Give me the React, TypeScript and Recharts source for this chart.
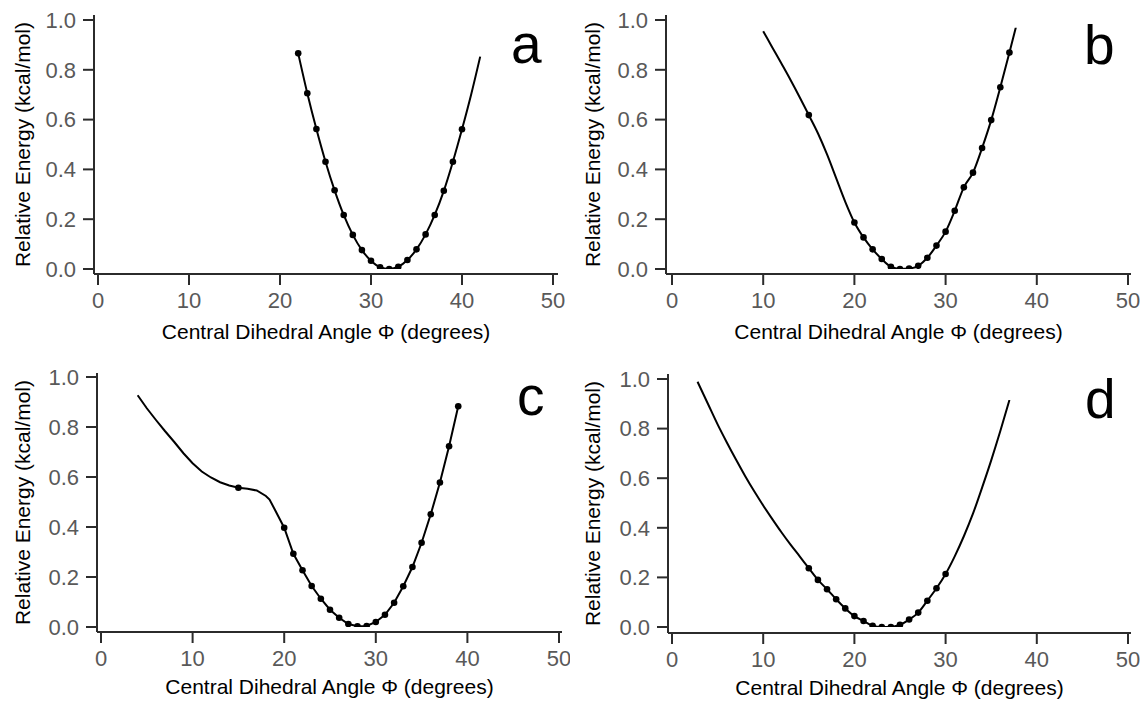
import React from "react";
import { ComposedChart, Line, Scatter, XAxis, YAxis } from "recharts";

const phiTicks = [0, 10, 20, 30, 40, 50];
const energyTicks = [0, 0.2, 0.4, 0.6, 0.8, 1.0];
const X_TITLE = "Central Dihedral Angle \u03A6 (degrees)";
const Y_TITLE = "Relative Energy (kcal/mol)";

// panel a
const aCurvePhi = [22, 23, 24, 25, 26, 27, 28, 29, 30, 31, 32, 33, 34, 35, 36, 37, 38, 39, 40, 41, 42];
const aCurveEnergy = [0.866, 0.706, 0.562, 0.431, 0.316, 0.217, 0.137, 0.076, 0.033, 0.007, 0.0, 0.009, 0.036, 0.079, 0.139, 0.217, 0.314, 0.431, 0.561, 0.7, 0.853];
const aMarkedPhi = [22, 23, 24, 25, 26, 27, 28, 29, 30, 31, 32, 33, 34, 35, 36, 37, 38, 39, 40];

// panel b
const bCurvePhi = [10, 11, 12, 13, 14, 15, 16, 17, 18, 19, 20, 21, 22, 23, 24, 25, 26, 27, 28, 29, 30, 31, 32, 33, 34, 35, 36, 37, 37.7];
const bCurveEnergy = [0.955, 0.89, 0.825, 0.759, 0.69, 0.618, 0.545, 0.46, 0.365, 0.27, 0.187, 0.127, 0.079, 0.04, 0.009, 0.0, 0.002, 0.013, 0.045, 0.094, 0.15, 0.234, 0.328, 0.387, 0.486, 0.598, 0.73, 0.869, 0.97];
const bMarkedPhi = [15, 20, 21, 22, 23, 24, 25, 26, 27, 28, 29, 30, 31, 32, 33, 34, 35, 36, 37];

// panel c (shoulder near 15-18, kink at ~18.4)
const cCurvePhi = [4, 5, 6, 7, 8, 9, 10, 11, 12, 13, 14, 15, 16, 17, 18, 18.4, 19, 20, 21, 22, 23, 24, 25, 26, 27, 28, 29, 30, 31, 32, 33, 34, 35, 36, 37, 38, 39];
const cCurveEnergy = [0.927, 0.875, 0.828, 0.783, 0.74, 0.695, 0.655, 0.622, 0.598, 0.579, 0.566, 0.557, 0.553, 0.546, 0.524, 0.51, 0.468, 0.397, 0.293, 0.227, 0.164, 0.113, 0.069, 0.037, 0.012, 0.003, 0.004, 0.02, 0.049, 0.097, 0.163, 0.24, 0.337, 0.451, 0.578, 0.723, 0.883];
const cMarkedPhi = [15, 20, 21, 22, 23, 24, 25, 26, 27, 28, 29, 30, 31, 32, 33, 34, 35, 36, 37, 38, 39];

// panel d
const dCurvePhi = [2.8, 4, 5, 6, 7, 8, 9, 10, 11, 12, 13, 14, 15, 16, 17, 18, 19, 20, 21, 22, 23, 24, 25, 26, 27, 28, 29, 30, 31, 32, 33, 34, 35, 36, 37];
const dCurveEnergy = [0.989, 0.895, 0.817, 0.745, 0.676, 0.61, 0.548, 0.49, 0.435, 0.382, 0.332, 0.285, 0.237, 0.19, 0.152, 0.112, 0.075, 0.044, 0.024, 0.005, 0.0, 0.0, 0.009, 0.03, 0.058, 0.106, 0.156, 0.214, 0.285, 0.366, 0.457, 0.562, 0.672, 0.79, 0.915];
const dMarkedPhi = [15, 16, 17, 18, 19, 20, 21, 22, 23, 24, 25, 26, 27, 28, 29, 30];

const FONT = '"Liberation Sans", Arial, sans-serif';
const AXIS = "#2b2b2b";
const TICK = "#595959";
const X_AXIS_H = 70;

const toPoints = (phi: number[], energy: number[]) =>
  phi.map((p, i) => ({ phi: p, energy: energy[i] }));

const panels = [
  {
    letter: "a", curve: toPoints(aCurvePhi, aCurveEnergy), marked: aMarkedPhi, curveType: "monotone",
    left: 0, top: 0, width: 570, height: 350,
    plotLeft: 94, plotRight: 558, plotTop: 15, plotBottom: 274,
    padL: 4, padR: 5, padT: 5, padB: 5, titleDrop: 65,
    letterX: 511, letterBase: 64,
  },
  {
    letter: "b", curve: toPoints(bCurvePhi, bCurveEnergy), marked: bMarkedPhi, curveType: "monotone",
    left: 570, top: 0, width: 570, height: 350,
    plotLeft: 96, plotRight: 561, plotTop: 15, plotBottom: 274,
    padL: 6, padR: 3, padT: 5, padB: 5, titleDrop: 65,
    letterX: 514, letterBase: 65,
  },
  {
    letter: "c", curve: toPoints(cCurvePhi, cCurveEnergy), marked: cMarkedPhi, curveType: "linear",
    left: 0, top: 340, width: 570, height: 362,
    plotLeft: 97, plotRight: 562, plotTop: 33, plotBottom: 292,
    padL: 4, padR: 3, padT: 4, padB: 5, titleDrop: 62,
    letterX: 517, letterBase: 76,
  },
  {
    letter: "d", curve: toPoints(dCurvePhi, dCurveEnergy), marked: dMarkedPhi, curveType: "monotone",
    left: 570, top: 340, width: 570, height: 362,
    plotLeft: 98, plotRight: 561, plotTop: 34, plotBottom: 293,
    padL: 4, padR: 3, padT: 5, padB: 6, titleDrop: 62,
    letterX: 515, letterBase: 79,
  },
];

const dotShape = (props: any) => <circle cx={props.cx} cy={props.cy} r={3.3} fill="#000" />;

function YTitle(props: any) {
  const vb = props.viewBox || { x: 0, y: 0, width: 0, height: 0 };
  const cx = vb.x + 30;
  const cy = vb.y + vb.height / 2;
  return (
    <text
      x={0}
      y={0}
      transform={`translate(${cx}, ${cy}) rotate(-90)`}
      textAnchor="middle"
      fill="#000"
      fontSize={21}
      fontFamily={FONT}
    >
      {Y_TITLE}
    </text>
  );
}

function Panel({ p }: { p: (typeof panels)[number] }) {
  const dots = p.curve.filter((d) => p.marked.includes(d.phi));
  return (
    <div style={{ position: "absolute", left: p.left, top: p.top, width: p.width, height: p.height }}>
      <ComposedChart
        width={p.width}
        height={p.height}
        margin={{ top: p.plotTop, right: p.width - p.plotRight, bottom: p.height - p.plotBottom - X_AXIS_H, left: 0 }}
      >
        <XAxis
          type="number"
          dataKey="phi"
          domain={[0, 50]}
          ticks={phiTicks}
          allowDataOverflow
          padding={{ left: p.padL, right: p.padR }}
          height={X_AXIS_H}
          axisLine={{ stroke: AXIS, strokeWidth: 2 }}
          tickLine={{ stroke: AXIS, strokeWidth: 2 }}
          tickSize={11}
          tickMargin={7}
          tick={{ fill: TICK, fontSize: 22, fontFamily: FONT }}
          label={{ value: X_TITLE, position: "insideBottom", offset: X_AXIS_H - p.titleDrop, fill: "#000", fontSize: 21, fontFamily: FONT }}
        />
        <YAxis
          type="number"
          dataKey="energy"
          domain={[0, 1]}
          ticks={energyTicks}
          allowDataOverflow
          tickFormatter={(v: number) => v.toFixed(1)}
          width={p.plotLeft}
          padding={{ top: p.padT, bottom: p.padB }}
          axisLine={{ stroke: AXIS, strokeWidth: 2 }}
          tickLine={{ stroke: AXIS, strokeWidth: 2 }}
          tickSize={11}
          tickMargin={7}
          tick={{ fill: TICK, fontSize: 22, fontFamily: FONT }}
          label={<YTitle />}
        />
        <Line
          data={p.curve}
          dataKey="energy"
          type={p.curveType as any}
          stroke="#000"
          strokeWidth={2}
          dot={false}
          activeDot={false}
          isAnimationActive={false}
        />
        <Scatter data={dots} dataKey="energy" fill="#000" shape={dotShape} isAnimationActive={false} />
      </ComposedChart>
      <div
        style={{
          position: "absolute",
          left: p.letterX,
          top: p.letterBase - 47,
          fontSize: 55,
          lineHeight: "55px",
          fontFamily: FONT,
          color: "#000",
        }}
      >
        {p.letter}
      </div>
    </div>
  );
}

export default function App() {
  return (
    <div style={{ position: "absolute", left: 0, top: 0, width: 1140, height: 702, background: "#fff" }}>
      {panels.map((p) => (
        <Panel key={p.letter} p={p} />
      ))}
    </div>
  );
}
